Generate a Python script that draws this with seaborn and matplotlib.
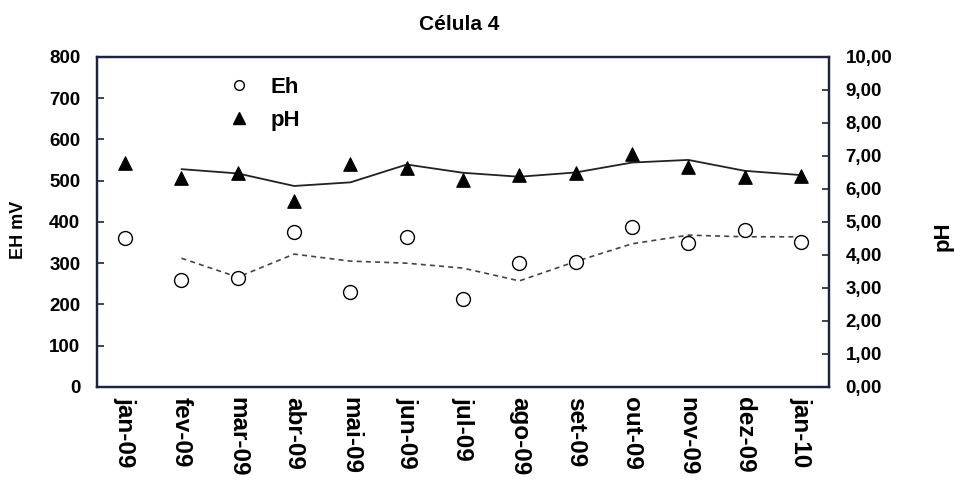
import matplotlib
matplotlib.use("Agg")
import matplotlib.pyplot as plt
import seaborn as sns
import pandas as pd
import numpy as np
from matplotlib.lines import Line2D
from matplotlib.ticker import FixedLocator, FuncFormatter

months = ["jan-09", "fev-09", "mar-09", "abr-09", "mai-09", "jun-09", "jul-09",
          "ago-09", "set-09", "out-09", "nov-09", "dez-09", "jan-10"]
eh = [362, 259, 264, 376, 230, 363, 212, 300, 304, 387, 350, 381, 352]
ph = [6.78, 6.34, 6.49, 5.62, 6.76, 6.64, 6.27, 6.43, 6.49, 7.06, 6.68, 6.37, 6.39]
# trend lines (2-period moving average as drawn), start at fev-09
eh_trend = [312, 266, 322, 305, 300, 288, 257, 304, 347, 368, 364, 364]
ph_trend = [6.60, 6.47, 6.09, 6.20, 6.74, 6.49, 6.37, 6.50, 6.80, 6.88, 6.55, 6.42]

sns.set_style("white")
plt.rcParams['font.family'] = ['Liberation Sans', 'DejaVu Sans']
plt.rcParams['font.weight'] = 'bold'
plt.rcParams['text.color'] = 'black'
plt.rcParams['xtick.labelcolor'] = 'black'
plt.rcParams['ytick.labelcolor'] = 'black'

df = pd.DataFrame({"pos": np.arange(len(months)), "Eh": eh, "pH": ph})
dft = pd.DataFrame({"pos": np.arange(1, len(months)), "Eh": eh_trend, "pH": ph_trend})

fig = plt.figure(figsize=(9.55, 4.83), dpi=100)
ax = fig.add_axes([0.1016, 0.199, 0.7665, 0.683])
ax2 = ax.twinx()

frame = "#1b2440"
sns.lineplot(data=dft, x="pos", y="Eh", ax=ax, color="#444444", lw=1.2,
             linestyle=(0, (3, 2.5)), legend=False)
sns.scatterplot(data=df, x="pos", y="Eh", ax=ax, marker="o", s=100,
                facecolor="white", edgecolor="black", linewidth=1.0, zorder=3, legend=False)
sns.lineplot(data=dft, x="pos", y="pH", ax=ax2, color="#222222", lw=1.3, legend=False)
sns.scatterplot(data=df, x="pos", y="pH", ax=ax2, marker="^", s=95,
                color="black", edgecolor="black", zorder=3, legend=False)

ax.set_xlim(-0.5, len(months) - 0.5)
ax.set_ylim(0, 800)
ax2.set_ylim(0, 10)
ax.set_yticks(np.arange(0, 801, 100))
ax2.set_yticks(np.arange(0, 10.01, 1))
ax2.yaxis.set_major_formatter(FuncFormatter(lambda v, p: f"{v:.2f}".replace(".", ",")))

ax.set_xticks(np.arange(len(months)))
ax.set_xticklabels(months, rotation=-90, fontsize=17.5, fontweight="bold", color="black")
ax.xaxis.set_minor_locator(FixedLocator(np.arange(0.5, len(months) - 1, 1)))
ax.tick_params(axis="x", which="major", length=0, pad=7)
ax.tick_params(axis="x", which="minor", direction="in", length=5, width=1.2, color=frame)
ax.tick_params(axis="y", direction="in", length=5, width=1.2, color=frame,
               labelsize=13.5, pad=12, labelcolor="black")
ax2.tick_params(axis="y", direction="in", length=5, width=1.2, color=frame,
                labelsize=13.5, pad=12, labelcolor="black")
for lab in ax.get_yticklabels() + ax2.get_yticklabels():
    lab.set_fontweight("bold")

ax.set_xlabel("")
ax.set_ylabel("")
ax2.set_ylabel("")
fig.text(18.5 / 955, 1 - 230 / 483, "EH mV", rotation=90, ha="center", va="center",
         fontsize=13, fontweight="bold", color="black")
fig.text(943 / 955, 1 - 236 / 483, "pH", rotation=90, ha="center", va="center",
         fontsize=16, fontweight="bold", color="black")

for a in (ax, ax2):
    for sp in a.spines.values():
        sp.set_color(frame)
        sp.set_linewidth(1.6)

fig.text(459 / 955, 1 - 25 / 483, "Célula 4", ha="center", va="center",
         fontsize=15, fontweight="bold", color="black")

handles = [
    Line2D([], [], marker="o", linestyle="none", markersize=7, markerfacecolor="white",
           markeredgecolor="black", markeredgewidth=1.0, label="Eh"),
    Line2D([], [], marker="^", linestyle="none", markersize=8, color="black", label="pH"),
]
leg = fig.legend(handles=handles, loc="upper left", bbox_to_anchor=(228 / 955, 1 - 77 / 483),
                 frameon=False, prop={"size": 16, "weight": "bold"}, borderpad=0,
                 borderaxespad=0, handletextpad=0.9, labelspacing=0.55, handlelength=1.0)
for t in leg.get_texts():
    t.set_color("black")

fig.savefig("out.png", dpi=100)
